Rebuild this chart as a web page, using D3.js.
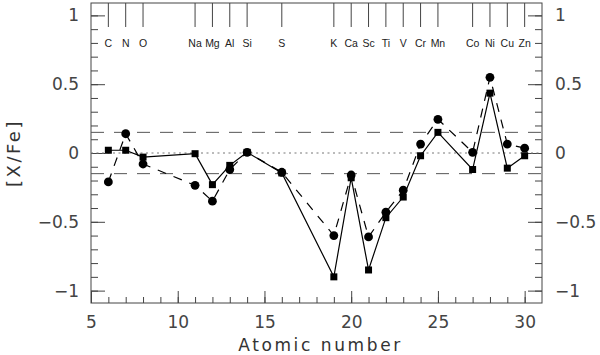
<!DOCTYPE html>
<html>
<head>
<meta charset="utf-8">
<script src="https://cdn.jsdelivr.net/npm/d3@7"></script>
<style>
  body { margin: 0; background: #fff; }
  svg { display: block; }
  .tick-label { font-family: "DejaVu Sans", sans-serif; font-size: 17px; fill: #444; }
</style>
</head>
<body>
<div id="chart"></div>
<script>
// element symbols and their atomic numbers
const elements = ["C", "N", "O", "Na", "Mg", "Al", "Si", "S", "K", "Ca", "Sc", "Ti", "V", "Cr", "Mn", "Co", "Ni", "Cu", "Zn"];
const atomicNumbers = [6, 7, 8, 11, 12, 13, 14, 16, 19, 20, 21, 22, 23, 24, 25, 27, 28, 29, 30];

// [X/Fe] - squares (solid line) and circles (dashed line)
const squareValues = [0.02, 0.02, -0.03, -0.005, -0.23, -0.09, 0.005, -0.145, -0.90, -0.18, -0.85, -0.47, -0.32, -0.02, 0.15, -0.12, 0.435, -0.11, -0.02];
const circleValues = [-0.21, 0.14, -0.08, -0.235, -0.35, -0.12, 0.005, -0.14, -0.60, -0.16, -0.61, -0.43, -0.27, 0.065, 0.245, 0.005, 0.55, 0.065, 0.035];

const xTickValues = [5, 10, 15, 20, 25, 30];
const yTickValues = [-1, -0.5, 0, 0.5, 1];
const bandLimits = [-0.15, 0.15];

const W = 600, H = 355;
const margin = {top: 3, right: 58, bottom: 52, left: 91};
const width = W - margin.left - margin.right;
const height = H - margin.top - margin.bottom;

const svg = d3.select("#chart").append("svg")
    .attr("width", W)
    .attr("height", H);

const g = svg.append("g")
    .attr("transform", "translate(" + margin.left + "," + margin.top + ")");

const x = d3.scaleLinear().domain([5, 31]).range([0, width]);
const y = d3.scaleLinear().domain([-1.09, 1.09]).range([height, 0]);

const fmt = d => (d < 0 ? "\u2212" : "") + Math.abs(d);

// minor ticks
const xMinor = d3.range(5, 31, 1);
const yMinor = d3.range(-10, 11, 1).map(d => d / 10);

function styleAxis(sel) {
    sel.select(".domain").remove();
    sel.selectAll("line").attr("stroke", "#444").attr("stroke-width", 1);
    sel.selectAll("text").attr("class", "tick-label").attr("fill", "#444");
}

// bottom
g.append("g").attr("transform", "translate(0," + height + ")")
    .call(d3.axisBottom(x).tickValues(xMinor).tickSize(-6).tickFormat(""))
    .call(styleAxis);
g.append("g").attr("transform", "translate(0," + height + ")")
    .call(d3.axisBottom(x).tickValues(xTickValues).tickSize(-12).tickPadding(13).tickFormat(d3.format("d")))
    .call(styleAxis);

// left
g.append("g")
    .call(d3.axisLeft(y).tickValues(yMinor).tickSize(-7).tickFormat(""))
    .call(styleAxis);
g.append("g")
    .call(d3.axisLeft(y).tickValues(yTickValues).tickSize(-14).tickPadding(12).tickFormat(fmt))
    .call(styleAxis);

// right
g.append("g").attr("transform", "translate(" + width + ",0)")
    .call(d3.axisRight(y).tickValues(yMinor).tickSize(-7).tickFormat(""))
    .call(styleAxis);
g.append("g").attr("transform", "translate(" + width + ",0)")
    .call(d3.axisRight(y).tickValues(yTickValues).tickSize(-14).tickPadding(13).tickFormat(fmt))
    .call(styleAxis);

// frame
g.append("rect")
    .attr("width", width).attr("height", height)
    .attr("fill", "none").attr("stroke", "#444").attr("stroke-width", 1);

// reference lines
g.append("line")
    .attr("x1", 0).attr("x2", width)
    .attr("y1", y(0)).attr("y2", y(0))
    .attr("stroke", "#777").attr("stroke-dasharray", "2,3.5");

g.selectAll(".band").data(bandLimits).enter().append("line")
    .attr("class", "band")
    .attr("x1", 0).attr("x2", width)
    .attr("y1", d => y(d)).attr("y2", d => y(d))
    .attr("stroke", "#555").attr("stroke-dasharray", "13,10");

// element markers along the top
g.selectAll(".el-line").data(atomicNumbers).enter().append("line")
    .attr("class", "el-line")
    .attr("x1", d => x(d)).attr("x2", d => x(d))
    .attr("y1", 0).attr("y2", 24)
    .attr("stroke", "#444");

g.selectAll(".el-label").data(elements).enter().append("text")
    .attr("class", "el-label")
    .attr("x", (d, i) => x(atomicNumbers[i]))
    .attr("y", 44)
    .attr("text-anchor", "middle")
    .attr("font-family", "Liberation Sans, sans-serif")
    .attr("font-size", 10.5)
    .attr("fill", "#222")
    .text(d => d);

// series
const squares = atomicNumbers.map((z, i) => ({z: z, v: squareValues[i]}));
const circles = atomicNumbers.map((z, i) => ({z: z, v: circleValues[i]}));

const line = d3.line().x(d => x(d.z)).y(d => y(d.v));

g.append("path").datum(circles)
    .attr("d", line)
    .attr("fill", "none")
    .attr("stroke", "#000")
    .attr("stroke-width", 1.2)
    .attr("stroke-dasharray", "9,8");

g.append("path").datum(squares)
    .attr("d", line)
    .attr("fill", "none")
    .attr("stroke", "#000")
    .attr("stroke-width", 1.2);

g.selectAll(".circ").data(circles).enter().append("circle")
    .attr("class", "circ")
    .attr("cx", d => x(d.z))
    .attr("cy", d => y(d.v))
    .attr("r", 4.4)
    .attr("fill", "#000");

const sq = 7;
g.selectAll(".sq").data(squares).enter().append("rect")
    .attr("class", "sq")
    .attr("x", d => x(d.z) - sq / 2)
    .attr("y", d => y(d.v) - sq / 2)
    .attr("width", sq)
    .attr("height", sq)
    .attr("fill", "#000");

// axis titles
svg.append("text")
    .attr("x", margin.left + width / 2 + 4)
    .attr("y", 351)
    .attr("text-anchor", "middle")
    .attr("font-family", "DejaVu Sans, sans-serif")
    .attr("font-size", 17)
    .attr("letter-spacing", 2.6)
    .attr("fill", "#333")
    .text("Atomic number");

svg.append("text")
    .attr("transform", "translate(20," + (margin.top + y(0)) + ") rotate(-90)")
    .attr("text-anchor", "middle")
    .attr("font-family", "DejaVu Sans, sans-serif")
    .attr("font-size", 18)
    .attr("letter-spacing", 2.5)
    .attr("fill", "#333")
    .text("[X/Fe]");
</script>
</body>
</html>
